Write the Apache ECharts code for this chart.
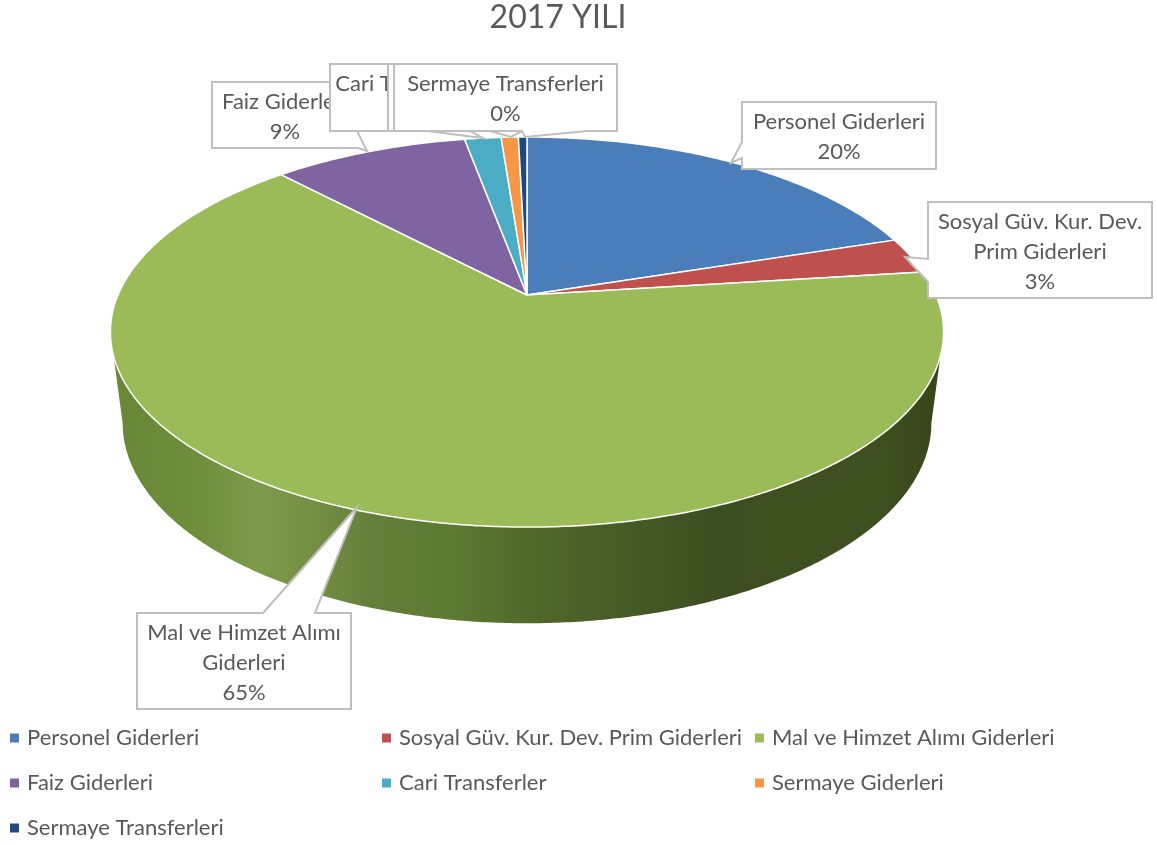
<!DOCTYPE html>
<html>
<head>
<meta charset="utf-8">
<title>2017 YILI</title>
<style>
  html, body { margin: 0; padding: 0; background: #fff; }
  #main { width: 1157px; height: 845px; }
</style>
<script src="https://cdn.jsdelivr.net/npm/echarts@6/dist/echarts.min.js"></script>
</head>
<body>
<div id="main"></div>
<script>
// values, the labels only show them rounded
const categories = [
  'Personel Giderleri',
  'Sosyal Güv. Kur. Dev. Prim Giderleri',
  'Mal ve Himzet Alımı Giderleri',
  'Faiz Giderleri',
  'Cari Transferler',
  'Sermaye Giderleri',
  'Sermaye Transferleri'
];
const values = [20, 3, 65, 9.1, 1.7, 0.8, 0.4];
const colors = ['#4a7ebb', '#c0504d', '#9bbb59', '#8064a2', '#4bacc6', '#f79646', '#1f497d'];
const labelLines = [
  'Personel Giderleri',
  'Sosyal Güv. Kur. Dev.\nPrim Giderleri',
  'Mal ve Himzet Alımı\nGiderleri',
  'Faiz Giderleri',
  'Cari Transferler',
  'Sermaye Giderleri',
  'Sermaye Transferleri'
];

const FONT = 'Lato, "Noto Sans", sans-serif';
const TEXT = '#595959';
const total = values.reduce((a, b) => a + b, 0);

// the disc is a circle seen in perspective, so the apex is not the ellipse centre
const TOP = { x: 527, y: 295, a: 409, b: 188 };
const BOTTOM = { x: 527, y: 385, a: 397, b: 193 };
const PERSP = 0.19;
const SIDE_FROM = 101, SIDE_TO = 259; // part of the rim that faces the viewer

function rim(disc, deg) {
  const t = deg * Math.PI / 180;
  const w = 1 + PERSP * Math.cos(t);
  return [disc.x + disc.a * Math.sin(t) / w, disc.y - disc.b * Math.cos(t) / w];
}

function arc(disc, from, to) {
  const pts = [];
  const n = Math.max(2, Math.ceil((to - from) / 0.5));
  for (let i = 0; i <= n; i++) pts.push(rim(disc, from + (to - from) * i / n));
  return pts;
}

function sliceRange(i) {
  const before = values.slice(0, i).reduce((a, b) => a + b, 0);
  return [before / total * 360, (before + values[i]) / total * 360];
}

function renderSlice(params) {
  const i = params.seriesIndex;
  const [from, to] = sliceRange(i);
  const children = [];
  const sFrom = Math.max(from, SIDE_FROM), sTo = Math.min(to, SIDE_TO);
  if (sTo > sFrom) {
    children.push({
      type: 'polygon',
      shape: { points: arc(TOP, sFrom, sTo).concat(arc(BOTTOM, sFrom, sTo).reverse()) },
      style: {
        // shading of the side wall goes from lit on the left to dark on the right
        fill: new echarts.graphic.LinearGradient(0, 0, 1, 0, [
          { offset: 0, color: '#678637' },
          { offset: 0.11, color: '#6f8f3d' },
          { offset: 0.175, color: '#7e9a4c' },
          { offset: 0.245, color: '#748f42' },
          { offset: 0.31, color: '#64803a' },
          { offset: 0.41, color: '#5d7a32' },
          { offset: 0.515, color: '#4f6629' },
          { offset: 0.58, color: '#4a5f29' },
          { offset: 0.72, color: '#3d4f20' },
          { offset: 0.92, color: '#3f5020' },
          { offset: 1, color: '#36461b' }
        ]),
        stroke: null
      }
    });
  }
  children.push({
    type: 'polygon',
    shape: { points: [[TOP.x, TOP.y]].concat(arc(TOP, from, to)) },
    style: { fill: colors[i], stroke: '#fff', lineWidth: 1.5, lineJoin: 'round' }
  });
  return { type: 'group', children };
}

// callout boxes; pointer points go into the outline after corner "after" (TL, TR, BR, BL)
const callouts = [
  { x: 742, y: 102, w: 194, h: 67, after: 3, pointer: [[742, 158], [731, 163], [742, 142]] },
  { x: 928, y: 202, w: 224, h: 96, after: 3, pointer: [[928, 282], [905, 257], [928, 259]] },
  { x: 137, y: 613, w: 214, h: 96, after: 0, pointer: [[263, 613], [357, 507], [315, 613]] },
  { x: 212, y: 82, w: 146, h: 66, after: 1, pointer: [[358, 133], [367, 151]] },
  { x: 330, y: 64, w: 158, h: 67, after: 2, pointer: [[470, 131], [483, 138], [427, 131]] },
  { x: 388, y: 64, w: 184, h: 67, after: 2, pointer: [[522, 131], [511, 137], [490, 131]] },
  { x: 394, y: 64, w: 223, h: 67, after: 2, pointer: [[587, 131], [525, 137], [522, 131]] }
];

function renderCallout(params) {
  const i = params.dataIndex;
  const c = callouts[i];
  const corners = [[c.x, c.y], [c.x + c.w, c.y], [c.x + c.w, c.y + c.h], [c.x, c.y + c.h]];
  const pts = corners.slice(0, c.after + 1).concat(c.pointer, corners.slice(c.after + 1));
  const pct = Math.round(values[i] / total * 100) + '%';
  return {
    type: 'group',
    children: [
      {
        type: 'polygon',
        shape: { points: pts },
        style: { fill: '#fff', stroke: '#bfbfbf', lineWidth: 2, lineJoin: 'miter' }
      },
      {
        type: 'text',
        style: {
          x: c.x + c.w / 2,
          y: c.y + c.h / 2 + 1.5,
          text: labelLines[i] + '\n' + pct,
          align: 'center',
          verticalAlign: 'middle',
          fontFamily: FONT,
          fontSize: 22,
          lineHeight: 30,
          fill: TEXT
        }
      }
    ]
  };
}

const legendBase = {
  orient: 'vertical', icon: 'rect', itemWidth: 9, itemHeight: 9, itemGap: 23,
  padding: 0, selectedMode: false,
  textStyle: { color: TEXT, fontFamily: FONT, fontSize: 22, padding: [0, 0, 0, 3] }
};

const chart = echarts.init(document.getElementById('main'));
chart.setOption({
  backgroundColor: '#fff',
  animation: false,
  title: {
    text: '2017 YILI',
    left: 553,
    top: -3,
    textAlign: 'center',
    textStyle: { color: TEXT, fontFamily: FONT, fontSize: 32, fontWeight: 'normal' }
  },
  legend: [
    Object.assign({}, legendBase, { left: 10, top: 727, data: [categories[0], categories[3], categories[6]] }),
    Object.assign({}, legendBase, { left: 382, top: 727, data: [categories[1], categories[4]] }),
    Object.assign({}, legendBase, { left: 755, top: 727, data: [categories[2], categories[5]] })
  ],
  series: categories.map((name, i) => ({
    type: 'custom',
    name: name,
    coordinateSystem: 'none',
    silent: true,
    itemStyle: { color: colors[i] },
    data: [[values[i]]],
    renderItem: renderSlice
  })).concat([{
    type: 'custom',
    name: 'labels',
    coordinateSystem: 'none',
    silent: true,
    z: 5,
    data: values.map(v => [v]),
    renderItem: renderCallout
  }])
});
window.addEventListener('resize', function () {
  chart.resize();
});
</script>
</body>
</html>
